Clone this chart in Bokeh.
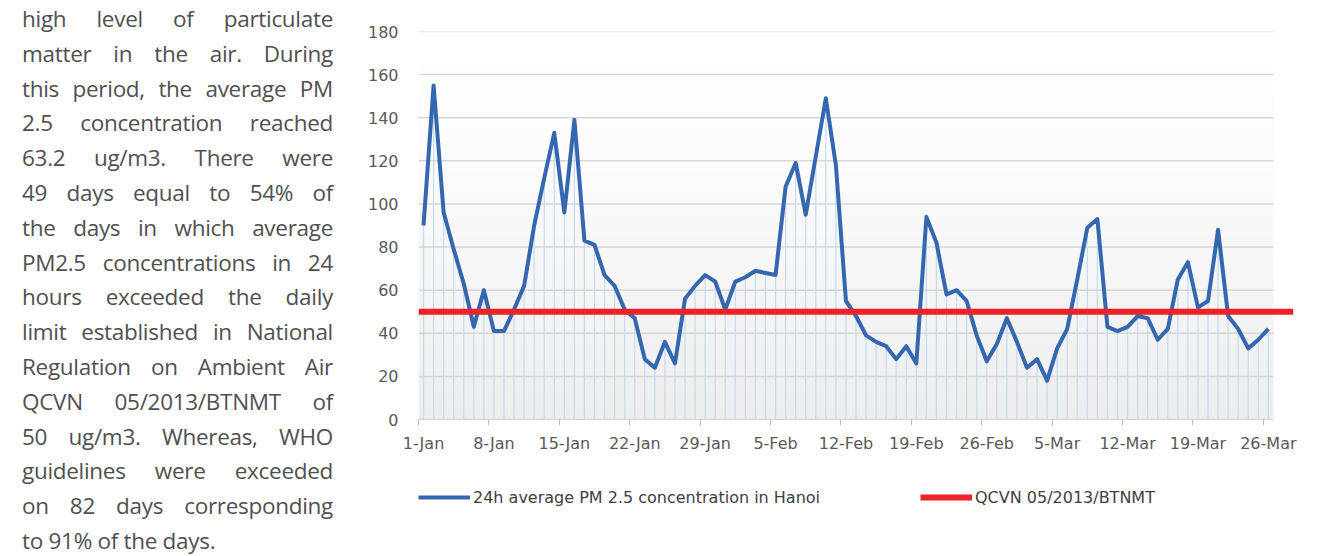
from bokeh.plotting import figure
from bokeh.models import Range1d, FixedTicker, Legend, LegendItem, BoxAnnotation, Div
from bokeh.layouts import row, column
from bokeh.embed import file_html
from bokeh.resources import INLINE

# ---------------- data ----------------
pm25 = [90, 155, 96, 79, 63, 43, 60, 41, 41, 51,
        62, 90, 112, 133, 96, 139, 83, 81, 67, 62,
        51, 47, 28, 24, 36, 26, 56, 62, 67, 64,
        51, 64, 66, 69, 68, 67, 108, 119, 95, 122,
        149, 118, 55, 48, 39, 36, 34, 28, 34, 26,
        94, 82, 58, 60, 55, 39, 27, 35, 47, 36,
        24, 28, 18, 33, 42, 65, 89, 93, 43, 41,
        43, 48, 47, 37, 42, 65, 73, 52, 55, 88,
        48, 42, 33, 37, 42]
limit_value = 50
tick_days = [0, 7, 14, 21, 28, 35, 42, 49, 56, 63, 70, 77, 84]
tick_labels = ["1-Jan", "8-Jan", "15-Jan", "22-Jan", "29-Jan", "5-Feb", "12-Feb",
               "19-Feb", "26-Feb", "5-Mar", "12-Mar", "19-Mar", "26-Mar"]
y_ticks = [0, 20, 40, 60, 80, 100, 120, 140, 160, 180]
series_names = ["24h average PM 2.5 concentration in Hanoi", "QCVN 05/2013/BTNMT"]
text_lines = [
    "high level of particulate",
    "matter in the air. During",
    "this period, the average PM",
    "2.5 concentration reached",
    "63.2 ug/m3. There were",
    "49 days equal to 54% of",
    "the days in which average",
    "PM2.5 concentrations in 24",
    "hours exceeded the daily",
    "limit established in National",
    "Regulation on Ambient Air",
    "QCVN 05/2013/BTNMT of",
    "50 ug/m3. Whereas, WHO",
    "guidelines were exceeded",
    "on 82 days corresponding",
    "to 91% of the days.",
]

BLUE = "#3567b0"
RED = "#ec2227"

n = len(pm25)
days = list(range(n))
x_lo = -0.5
plot_end = n - 0.5
x_hi = n + 1.5
y_max = y_ticks[-1]

# ---------------- main figure ----------------
p = figure(width=994, height=460, x_range=Range1d(x_lo, x_hi), y_range=Range1d(0, y_max),
           output_backend="svg", toolbar_location=None,
           min_border_left=78, min_border_right=41, min_border_top=31, min_border_bottom=41)
p.outline_line_color = None
p.xgrid.visible = False
p.ygrid.visible = False
p.background_fill_color = "white"
p.border_fill_color = "white"

# subtle vertical gradient in the plot area
bands = 36
for k in range(bands):
    b0 = y_max * k / bands
    b1 = y_max * (k + 1) / bands
    t = 1 - (b0 + b1) / 2 / y_max
    c = int(round(255 - 18 * t ** 1.4))
    p.add_layout(BoxAnnotation(left=x_lo, right=plot_end, bottom=b0, top=min(b1 + 0.4, y_max),
                               fill_color=f"#{c:02x}{c:02x}{c:02x}", fill_alpha=1.0,
                               line_color=None, level="underlay"))

# horizontal gridlines limited to the plot area
p.segment(x0=[x_lo] * (len(y_ticks) - 1), x1=[plot_end] * (len(y_ticks) - 1),
          y0=y_ticks[1:], y1=y_ticks[1:], line_color="#d6d6d6", line_width=1.5)

# drop lines
p.segment(x0=days, y0=[0] * n, x1=days, y1=pm25, line_color="#c6daef", line_width=1.2)

p.line(days, pm25, line_color=BLUE, line_width=4, line_join="round")
p.line([x_lo, x_hi], [limit_value, limit_value], line_color=RED, line_width=6)

# axes
xa = p.xaxis[0]
xa.ticker = FixedTicker(ticks=tick_days, minor_ticks=[d - 0.5 for d in tick_days])
xa.major_label_overrides = {d: lab for d, lab in zip(tick_days, tick_labels)}
xa.bounds = (x_lo, plot_end)
xa.axis_line_color = "#d0d0d0"
xa.axis_line_width = 1
xa.major_tick_in = 0
xa.major_tick_out = 0
xa.minor_tick_in = 0
xa.minor_tick_out = 6
xa.minor_tick_line_color = "#c0c0c0"
xa.major_label_text_font = "DejaVu Sans"
xa.major_label_text_font_size = "16px"
xa.major_label_text_color = "#595959"
xa.major_label_standoff = 8

ya = p.yaxis[0]
ya.ticker = FixedTicker(ticks=y_ticks)
ya.axis_line_color = None
ya.major_tick_line_color = None
ya.minor_tick_line_color = None
ya.major_tick_in = 0
ya.major_tick_out = 0
ya.major_label_text_font = "DejaVu Sans"
ya.major_label_text_font_size = "16px"
ya.major_label_text_color = "#595959"
ya.major_label_standoff = 20

# ---------------- legend strip (frame aligned with the main plot) ----------------
lg = figure(width=994, height=96, x_range=Range1d(0, 1), y_range=Range1d(0, 1),
            output_backend="svg", toolbar_location=None, min_border=0,
            x_axis_location=None, y_axis_location=None)
lg.outline_line_color = None
lg.xgrid.visible = False
lg.ygrid.visible = False
nan = float("nan")
lg_blue = lg.line(x=[nan, nan], y=[nan, nan], line_color=BLUE, line_width=4)
lg_red = lg.line(x=[nan, nan], y=[nan, nan], line_color=RED, line_width=6)
legend = Legend(items=[LegendItem(label=series_names[0], renderers=[lg_blue]),
                       LegendItem(label=series_names[1], renderers=[lg_red])],
                orientation="horizontal", location=(0, 49), padding=0, margin=0, spacing=0,
                glyph_width=52, glyph_height=20, label_standoff=3, label_width=447,
                label_height=20, border_line_color=None, background_fill_alpha=0,
                label_text_font="DejaVu Sans", label_text_font_size="16px",
                label_text_color="#404040")
lg.add_layout(legend)

# ---------------- left text column ----------------
parts = []
for i, line in enumerate(text_lines):
    last = i == len(text_lines) - 1
    align = "text-align:left;" if last else "text-align:justify;text-align-last:justify;"
    parts.append(f'<div style="{align}">{line}</div>')
html = ('<div style="width:340px;height:556px;overflow:hidden;font-family:\'Open Sans\';'
        'font-size:22.5px;letter-spacing:-0.3px;line-height:34.8px;color:#505050;">'
        '<div style="box-sizing:border-box;margin-top:2px;padding-left:22px;width:333px;">'
        + "".join(parts) + '</div></div>')
div = Div(text=html, width=340, height=556, margin=0)

layout = row(div, column(p, lg))
open("out.html", "w").write(file_html(layout, INLINE))
